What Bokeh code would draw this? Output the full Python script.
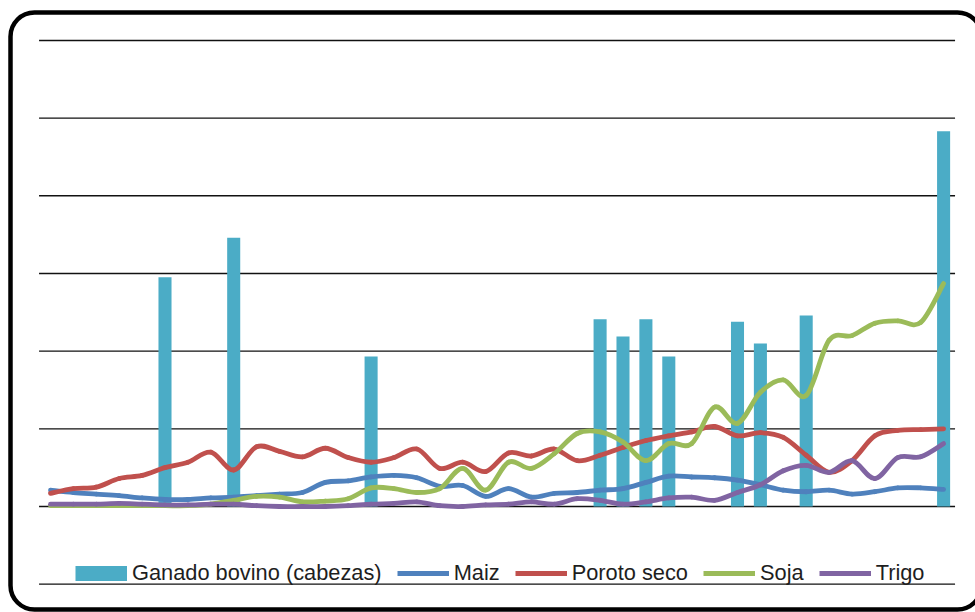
import numpy as np
from bokeh.plotting import figure
from bokeh.models import Range1d, BoxAnnotation, Legend, LegendItem
from bokeh.embed import file_html
from bokeh.resources import INLINE

# ---------------- data ----------------
periods = list(range(40))
bar_periods = [5, 8, 14, 24, 25, 26, 27, 30, 31, 33, 39]
ganado = [2.95, 3.46, 1.93, 2.41, 2.19, 2.41, 1.93, 2.38, 2.10, 2.46, 4.83]
maiz = [0.21, 0.18, 0.16, 0.14, 0.11, 0.09, 0.09, 0.11, 0.12, 0.14,
        0.16, 0.18, 0.31, 0.33, 0.38, 0.40, 0.37, 0.26, 0.27, 0.13,
        0.23, 0.12, 0.17, 0.18, 0.21, 0.23, 0.31, 0.39, 0.38, 0.37,
        0.34, 0.28, 0.21, 0.19, 0.21, 0.16, 0.19, 0.24, 0.24, 0.22]
poroto = [0.17, 0.23, 0.25, 0.36, 0.40, 0.50, 0.57, 0.70, 0.47, 0.77,
          0.71, 0.64, 0.75, 0.63, 0.57, 0.63, 0.74, 0.49, 0.57, 0.45,
          0.69, 0.65, 0.74, 0.59, 0.66, 0.76, 0.85, 0.91, 0.96, 1.03,
          0.91, 0.95, 0.89, 0.66, 0.44, 0.59, 0.91, 0.98, 0.99, 1.00]
soja = [0.01, 0.01, 0.01, 0.01, 0.01, 0.01, 0.01, 0.03, 0.08, 0.13,
        0.12, 0.06, 0.07, 0.10, 0.24, 0.23, 0.18, 0.23, 0.49, 0.21,
        0.57, 0.49, 0.68, 0.94, 0.96, 0.83, 0.59, 0.81, 0.81, 1.28,
        1.07, 1.47, 1.63, 1.43, 2.14, 2.20, 2.36, 2.39, 2.37, 2.87]
trigo = [0.03, 0.03, 0.03, 0.04, 0.03, 0.02, 0.02, 0.03, 0.03, 0.01,
         0.00, 0.00, 0.00, 0.01, 0.03, 0.04, 0.06, 0.01, 0.00, 0.02,
         0.03, 0.06, 0.03, 0.10, 0.08, 0.03, 0.06, 0.11, 0.12, 0.08,
         0.18, 0.28, 0.46, 0.53, 0.44, 0.59, 0.36, 0.63, 0.64, 0.81]
grid_levels = [-1, 0, 1, 2, 3, 4, 5, 6]
labels = ["Ganado bovino (cabezas)", "Maiz", "Poroto seco", "Soja", "Trigo"]

# ---------------- styling / layout ----------------
BAR = "#4BACC6"
COLORS = {"Maiz": "#4F81BD", "Poroto seco": "#C0504D", "Soja": "#9BBB59", "Trigo": "#8064A2"}
LW = 4.8

W, H = 975, 612
PX_X, X0 = 22.9, 50.0     # pixels per period, canvas x of first period
PX_Y, Y0 = 77.67, 506.0   # pixels per unit, canvas y of zero

p = figure(width=W, height=H,
           x_range=Range1d(-X0 / PX_X, (W - X0) / PX_X),
           y_range=Range1d((Y0 - H) / PX_Y, Y0 / PX_Y),
           x_axis_location=None, y_axis_location=None,
           output_backend="svg", toolbar_location=None,
           min_border=0, outline_line_color=None,
           background_fill_color="white", border_fill_color="white")
p.grid.visible = False

# horizontal gridlines across the category span
n = len(grid_levels)
p.segment(x0=[periods[0] - 0.5] * n, x1=[periods[-1] + 0.5] * n,
          y0=grid_levels, y1=grid_levels, line_color="#111111", line_width=1.4)

# bars
p.vbar(x=bar_periods, top=ganado, bottom=0, width=0.57,
       fill_color=BAR, line_color=None)


def bez(xs, ys):
    xs = np.asarray(xs, float)
    ys = np.asarray(ys, float)
    xp = np.concatenate([[xs[0]], xs, [xs[-1]]])
    yp = np.concatenate([[ys[0]], ys, [ys[-1]]])
    m = len(xs)
    cx0 = xs[:-1] + (xp[2:m + 1] - xp[0:m - 1]) / 6
    cy0 = ys[:-1] + (yp[2:m + 1] - yp[0:m - 1]) / 6
    cx1 = xs[1:] - (xp[3:m + 2] - xp[1:m]) / 6
    cy1 = ys[1:] - (yp[3:m + 2] - yp[1:m]) / 6
    return dict(x0=xs[:-1], y0=ys[:-1], x1=xs[1:], y1=ys[1:],
                cx0=cx0, cy0=cy0, cx1=cx1, cy1=cy1)


series = [("Maiz", maiz), ("Poroto seco", poroto), ("Soja", soja), ("Trigo", trigo)]
for name, vals in series:
    d = bez(periods, vals)
    p.bezier(line_color=COLORS[name], line_width=LW, line_cap="round", **d)

# legend swatches (renderers that draw nothing in the plot area)
nan = np.array([np.nan])
items = []
r = p.line(x=nan, y=nan, line_color=BAR, line_width=15)
items.append(LegendItem(label=labels[0], renderers=[r]))
for name, _ in series:
    r = p.line(x=nan, y=nan, line_color=COLORS[name], line_width=LW)
    items.append(LegendItem(label=name, renderers=[r]))

legend = Legend(items=items, orientation="horizontal", location=(75, 26),
                glyph_width=52, glyph_height=16, label_height=16,
                label_standoff=5, spacing=15, padding=0, margin=0,
                background_fill_alpha=0, border_line_color=None,
                label_text_font="Liberation Sans", label_text_font_size="21.8px",
                label_text_color="#1e1e1e")
p.add_layout(legend)

# rounded outer frame
frame = BoxAnnotation(left=(10 - X0) / PX_X, right=(981 - X0) / PX_X,
                      top=(Y0 - 12) / PX_Y, bottom=(Y0 - 609) / PX_Y,
                      fill_alpha=0, line_color="black", line_alpha=1,
                      line_width=4.5, line_dash="solid", border_radius=24)
p.add_layout(frame)

open("out.html", "w").write(file_html(p, INLINE))
